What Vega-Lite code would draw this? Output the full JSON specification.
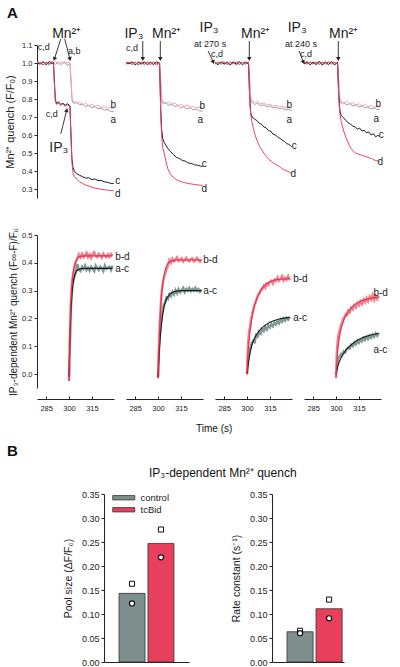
{
"$schema":"https://vega.github.io/schema/vega-lite/v6.json",
"background":"white",
"padding":{"left":4,"top":6,"right":0,"bottom":0},
"config":{"font":"Liberation Sans","view":{"stroke":null},
 "axis":{"grid":false,"domainColor":"#222","tickColor":"#222","labelColor":"#222","titleColor":"#222","titleFontWeight":"normal","labelFont":"Liberation Sans","titleFont":"Liberation Sans","labelOverlap":false},
 "title":{"font":"Liberation Sans","color":"#111"},
 "text":{"font":"Liberation Sans","color":"#222"},
 "legend":{"labelFont":"Liberation Sans","labelColor":"#222"}},
"datasets":{
"top":[
{"k":"tr","p":1,"s":"a","t":279,"v":0.995},{"k":"tr","p":1,"s":"a","t":281,"v":1.006},{"k":"tr","p":1,"s":"a","t":283,"v":0.99},{"k":"tr","p":1,"s":"a","t":285,"v":1.003},{"k":"tr","p":1,"s":"a","t":287,"v":0.988},{"k":"tr","p":1,"s":"a","t":289,"v":1.008},{"k":"tr","p":1,"s":"a","t":291,"v":0.992},{"k":"tr","p":1,"s":"a","t":293,"v":1.004},{"k":"tr","p":1,"s":"a","t":295,"v":0.99},{"k":"tr","p":1,"s":"a","t":297,"v":1.007},{"k":"tr","p":1,"s":"a","t":299,"v":0.986},{"k":"tr","p":1,"s":"a","t":300.6,"v":0.998},{"k":"tr","p":1,"s":"a","t":301.3,"v":0.9},{"k":"tr","p":1,"s":"a","t":302,"v":0.79},{"k":"tr","p":1,"s":"a","t":303,"v":0.776},{"k":"tr","p":1,"s":"a","t":305,"v":0.782},{"k":"tr","p":1,"s":"a","t":307,"v":0.768},{"k":"tr","p":1,"s":"a","t":309,"v":0.772},{"k":"tr","p":1,"s":"a","t":311,"v":0.758},{"k":"tr","p":1,"s":"a","t":313,"v":0.765},{"k":"tr","p":1,"s":"a","t":315,"v":0.752},{"k":"tr","p":1,"s":"a","t":317,"v":0.758},{"k":"tr","p":1,"s":"a","t":319,"v":0.745},{"k":"tr","p":1,"s":"a","t":321,"v":0.75},{"k":"tr","p":1,"s":"a","t":323,"v":0.738},{"k":"tr","p":1,"s":"a","t":325,"v":0.742},{"k":"tr","p":1,"s":"a","t":327,"v":0.732},{"k":"tr","p":1,"s":"a","t":329.3,"v":0.73},
{"k":"tr","p":1,"s":"b","t":279,"v":1.006},{"k":"tr","p":1,"s":"b","t":281,"v":0.992},{"k":"tr","p":1,"s":"b","t":283,"v":1.01},{"k":"tr","p":1,"s":"b","t":285,"v":0.995},{"k":"tr","p":1,"s":"b","t":287,"v":1.006},{"k":"tr","p":1,"s":"b","t":289,"v":0.994},{"k":"tr","p":1,"s":"b","t":291,"v":1.01},{"k":"tr","p":1,"s":"b","t":293,"v":0.992},{"k":"tr","p":1,"s":"b","t":295,"v":1.008},{"k":"tr","p":1,"s":"b","t":297,"v":0.996},{"k":"tr","p":1,"s":"b","t":299,"v":1.004},{"k":"tr","p":1,"s":"b","t":300.6,"v":1.0},{"k":"tr","p":1,"s":"b","t":301.3,"v":0.91},{"k":"tr","p":1,"s":"b","t":302,"v":0.8},{"k":"tr","p":1,"s":"b","t":303,"v":0.786},{"k":"tr","p":1,"s":"b","t":305,"v":0.775},{"k":"tr","p":1,"s":"b","t":307,"v":0.784},{"k":"tr","p":1,"s":"b","t":309,"v":0.768},{"k":"tr","p":1,"s":"b","t":311,"v":0.776},{"k":"tr","p":1,"s":"b","t":313,"v":0.762},{"k":"tr","p":1,"s":"b","t":315,"v":0.77},{"k":"tr","p":1,"s":"b","t":317,"v":0.758},{"k":"tr","p":1,"s":"b","t":319,"v":0.765},{"k":"tr","p":1,"s":"b","t":321,"v":0.752},{"k":"tr","p":1,"s":"b","t":323,"v":0.758},{"k":"tr","p":1,"s":"b","t":325,"v":0.748},{"k":"tr","p":1,"s":"b","t":327,"v":0.752},{"k":"tr","p":1,"s":"b","t":329.3,"v":0.745},
{"k":"tr","p":1,"s":"c","t":279,"v":1.0},{"k":"tr","p":1,"s":"c","t":281,"v":0.994},{"k":"tr","p":1,"s":"c","t":283,"v":1.006},{"k":"tr","p":1,"s":"c","t":285,"v":0.99},{"k":"tr","p":1,"s":"c","t":287,"v":1.008},{"k":"tr","p":1,"s":"c","t":289,"v":0.996},{"k":"tr","p":1,"s":"c","t":289.8,"v":1.003},{"k":"tr","p":1,"s":"c","t":290.4,"v":0.9},{"k":"tr","p":1,"s":"c","t":291,"v":0.8},{"k":"tr","p":1,"s":"c","t":291.8,"v":0.772},{"k":"tr","p":1,"s":"c","t":293,"v":0.785},{"k":"tr","p":1,"s":"c","t":294.5,"v":0.77},{"k":"tr","p":1,"s":"c","t":296,"v":0.776},{"k":"tr","p":1,"s":"c","t":297.5,"v":0.765},{"k":"tr","p":1,"s":"c","t":299,"v":0.774},{"k":"tr","p":1,"s":"c","t":300.6,"v":0.762},{"k":"tr","p":1,"s":"c","t":301.3,"v":0.6},{"k":"tr","p":1,"s":"c","t":301.9,"v":0.47},{"k":"tr","p":1,"s":"c","t":302.6,"v":0.42},{"k":"tr","p":1,"s":"c","t":303.5,"v":0.4},{"k":"tr","p":1,"s":"c","t":305,"v":0.385},{"k":"tr","p":1,"s":"c","t":307,"v":0.376},{"k":"tr","p":1,"s":"c","t":309,"v":0.368},{"k":"tr","p":1,"s":"c","t":311,"v":0.36},{"k":"tr","p":1,"s":"c","t":313,"v":0.363},{"k":"tr","p":1,"s":"c","t":315,"v":0.352},{"k":"tr","p":1,"s":"c","t":317,"v":0.356},{"k":"tr","p":1,"s":"c","t":319,"v":0.346},{"k":"tr","p":1,"s":"c","t":321,"v":0.348},{"k":"tr","p":1,"s":"c","t":323,"v":0.34},{"k":"tr","p":1,"s":"c","t":325,"v":0.338},{"k":"tr","p":1,"s":"c","t":327,"v":0.332},{"k":"tr","p":1,"s":"c","t":329.3,"v":0.33},
{"k":"tr","p":1,"s":"d","t":279,"v":1.005},{"k":"tr","p":1,"s":"d","t":281,"v":1.0},{"k":"tr","p":1,"s":"d","t":283,"v":0.99},{"k":"tr","p":1,"s":"d","t":285,"v":1.004},{"k":"tr","p":1,"s":"d","t":287,"v":0.995},{"k":"tr","p":1,"s":"d","t":289,"v":1.007},{"k":"tr","p":1,"s":"d","t":289.8,"v":0.998},{"k":"tr","p":1,"s":"d","t":290.4,"v":0.88},{"k":"tr","p":1,"s":"d","t":291,"v":0.79},{"k":"tr","p":1,"s":"d","t":291.8,"v":0.77},{"k":"tr","p":1,"s":"d","t":293,"v":0.778},{"k":"tr","p":1,"s":"d","t":294.5,"v":0.764},{"k":"tr","p":1,"s":"d","t":296,"v":0.772},{"k":"tr","p":1,"s":"d","t":297.5,"v":0.76},{"k":"tr","p":1,"s":"d","t":299,"v":0.768},{"k":"tr","p":1,"s":"d","t":300.6,"v":0.758},{"k":"tr","p":1,"s":"d","t":301.3,"v":0.58},{"k":"tr","p":1,"s":"d","t":301.9,"v":0.45},{"k":"tr","p":1,"s":"d","t":302.6,"v":0.39},{"k":"tr","p":1,"s":"d","t":303.5,"v":0.37},{"k":"tr","p":1,"s":"d","t":305,"v":0.355},{"k":"tr","p":1,"s":"d","t":307,"v":0.34},{"k":"tr","p":1,"s":"d","t":309,"v":0.33},{"k":"tr","p":1,"s":"d","t":311,"v":0.322},{"k":"tr","p":1,"s":"d","t":313,"v":0.316},{"k":"tr","p":1,"s":"d","t":315,"v":0.31},{"k":"tr","p":1,"s":"d","t":317,"v":0.305},{"k":"tr","p":1,"s":"d","t":319,"v":0.302},{"k":"tr","p":1,"s":"d","t":321,"v":0.298},{"k":"tr","p":1,"s":"d","t":323,"v":0.296},{"k":"tr","p":1,"s":"d","t":325,"v":0.294},{"k":"tr","p":1,"s":"d","t":327,"v":0.292},{"k":"tr","p":1,"s":"d","t":329.3,"v":0.29},
{"k":"tr","p":2,"s":"a","t":279,"v":0.99},{"k":"tr","p":2,"s":"a","t":281,"v":1.004},{"k":"tr","p":2,"s":"a","t":283,"v":0.992},{"k":"tr","p":2,"s":"a","t":285,"v":1.006},{"k":"tr","p":2,"s":"a","t":287,"v":0.988},{"k":"tr","p":2,"s":"a","t":289,"v":1.003},{"k":"tr","p":2,"s":"a","t":291,"v":0.99},{"k":"tr","p":2,"s":"a","t":293,"v":1.007},{"k":"tr","p":2,"s":"a","t":295,"v":0.993},{"k":"tr","p":2,"s":"a","t":297,"v":1.004},{"k":"tr","p":2,"s":"a","t":299,"v":0.988},{"k":"tr","p":2,"s":"a","t":301,"v":0.998},{"k":"tr","p":2,"s":"a","t":301.8,"v":0.88},{"k":"tr","p":2,"s":"a","t":302.5,"v":0.79},{"k":"tr","p":2,"s":"a","t":303.5,"v":0.772},{"k":"tr","p":2,"s":"a","t":305,"v":0.78},{"k":"tr","p":2,"s":"a","t":307,"v":0.765},{"k":"tr","p":2,"s":"a","t":309,"v":0.772},{"k":"tr","p":2,"s":"a","t":311,"v":0.758},{"k":"tr","p":2,"s":"a","t":313,"v":0.766},{"k":"tr","p":2,"s":"a","t":315,"v":0.75},{"k":"tr","p":2,"s":"a","t":317,"v":0.757},{"k":"tr","p":2,"s":"a","t":319,"v":0.745},{"k":"tr","p":2,"s":"a","t":321,"v":0.752},{"k":"tr","p":2,"s":"a","t":323,"v":0.74},{"k":"tr","p":2,"s":"a","t":325,"v":0.744},{"k":"tr","p":2,"s":"a","t":327,"v":0.735},{"k":"tr","p":2,"s":"a","t":329.3,"v":0.732},
{"k":"tr","p":2,"s":"b","t":279,"v":1.004},{"k":"tr","p":2,"s":"b","t":281,"v":0.995},{"k":"tr","p":2,"s":"b","t":283,"v":1.008},{"k":"tr","p":2,"s":"b","t":285,"v":0.993},{"k":"tr","p":2,"s":"b","t":287,"v":1.005},{"k":"tr","p":2,"s":"b","t":289,"v":0.992},{"k":"tr","p":2,"s":"b","t":291,"v":1.008},{"k":"tr","p":2,"s":"b","t":293,"v":0.995},{"k":"tr","p":2,"s":"b","t":295,"v":1.006},{"k":"tr","p":2,"s":"b","t":297,"v":0.99},{"k":"tr","p":2,"s":"b","t":299,"v":1.005},{"k":"tr","p":2,"s":"b","t":301,"v":1.0},{"k":"tr","p":2,"s":"b","t":301.8,"v":0.9},{"k":"tr","p":2,"s":"b","t":302.5,"v":0.8},{"k":"tr","p":2,"s":"b","t":303.5,"v":0.786},{"k":"tr","p":2,"s":"b","t":305,"v":0.776},{"k":"tr","p":2,"s":"b","t":307,"v":0.785},{"k":"tr","p":2,"s":"b","t":309,"v":0.77},{"k":"tr","p":2,"s":"b","t":311,"v":0.778},{"k":"tr","p":2,"s":"b","t":313,"v":0.762},{"k":"tr","p":2,"s":"b","t":315,"v":0.77},{"k":"tr","p":2,"s":"b","t":317,"v":0.76},{"k":"tr","p":2,"s":"b","t":319,"v":0.766},{"k":"tr","p":2,"s":"b","t":321,"v":0.755},{"k":"tr","p":2,"s":"b","t":323,"v":0.76},{"k":"tr","p":2,"s":"b","t":325,"v":0.75},{"k":"tr","p":2,"s":"b","t":327,"v":0.754},{"k":"tr","p":2,"s":"b","t":329.3,"v":0.748},
{"k":"tr","p":2,"s":"c","t":279,"v":1.003},{"k":"tr","p":2,"s":"c","t":281,"v":0.995},{"k":"tr","p":2,"s":"c","t":283,"v":1.006},{"k":"tr","p":2,"s":"c","t":285,"v":0.99},{"k":"tr","p":2,"s":"c","t":287,"v":1.004},{"k":"tr","p":2,"s":"c","t":289,"v":0.994},{"k":"tr","p":2,"s":"c","t":291,"v":1.007},{"k":"tr","p":2,"s":"c","t":293,"v":0.99},{"k":"tr","p":2,"s":"c","t":295,"v":1.004},{"k":"tr","p":2,"s":"c","t":297,"v":0.992},{"k":"tr","p":2,"s":"c","t":299,"v":1.006},{"k":"tr","p":2,"s":"c","t":301,"v":0.996},{"k":"tr","p":2,"s":"c","t":301.8,"v":0.75},{"k":"tr","p":2,"s":"c","t":302.4,"v":0.63},{"k":"tr","p":2,"s":"c","t":303.1,"v":0.58},{"k":"tr","p":2,"s":"c","t":304,"v":0.56},{"k":"tr","p":2,"s":"c","t":305,"v":0.545},{"k":"tr","p":2,"s":"c","t":306.5,"v":0.525},{"k":"tr","p":2,"s":"c","t":308,"v":0.51},{"k":"tr","p":2,"s":"c","t":310,"v":0.492},{"k":"tr","p":2,"s":"c","t":312,"v":0.476},{"k":"tr","p":2,"s":"c","t":314,"v":0.47},{"k":"tr","p":2,"s":"c","t":316,"v":0.458},{"k":"tr","p":2,"s":"c","t":318,"v":0.455},{"k":"tr","p":2,"s":"c","t":320,"v":0.444},{"k":"tr","p":2,"s":"c","t":322,"v":0.442},{"k":"tr","p":2,"s":"c","t":324,"v":0.434},{"k":"tr","p":2,"s":"c","t":326,"v":0.432},{"k":"tr","p":2,"s":"c","t":328,"v":0.427},{"k":"tr","p":2,"s":"c","t":329.3,"v":0.425},
{"k":"tr","p":2,"s":"d","t":279,"v":0.996},{"k":"tr","p":2,"s":"d","t":281,"v":1.006},{"k":"tr","p":2,"s":"d","t":283,"v":0.992},{"k":"tr","p":2,"s":"d","t":285,"v":1.003},{"k":"tr","p":2,"s":"d","t":287,"v":0.99},{"k":"tr","p":2,"s":"d","t":289,"v":1.006},{"k":"tr","p":2,"s":"d","t":291,"v":0.994},{"k":"tr","p":2,"s":"d","t":293,"v":1.005},{"k":"tr","p":2,"s":"d","t":295,"v":0.99},{"k":"tr","p":2,"s":"d","t":297,"v":1.006},{"k":"tr","p":2,"s":"d","t":299,"v":0.994},{"k":"tr","p":2,"s":"d","t":301,"v":1.002},{"k":"tr","p":2,"s":"d","t":301.8,"v":0.7},{"k":"tr","p":2,"s":"d","t":302.4,"v":0.59},{"k":"tr","p":2,"s":"d","t":303.1,"v":0.53},{"k":"tr","p":2,"s":"d","t":304,"v":0.5},{"k":"tr","p":2,"s":"d","t":305,"v":0.46},{"k":"tr","p":2,"s":"d","t":306.5,"v":0.41},{"k":"tr","p":2,"s":"d","t":308,"v":0.385},{"k":"tr","p":2,"s":"d","t":310,"v":0.365},{"k":"tr","p":2,"s":"d","t":312,"v":0.352},{"k":"tr","p":2,"s":"d","t":314,"v":0.344},{"k":"tr","p":2,"s":"d","t":316,"v":0.338},{"k":"tr","p":2,"s":"d","t":318,"v":0.334},{"k":"tr","p":2,"s":"d","t":320,"v":0.33},{"k":"tr","p":2,"s":"d","t":322,"v":0.328},{"k":"tr","p":2,"s":"d","t":324,"v":0.325},{"k":"tr","p":2,"s":"d","t":326,"v":0.323},{"k":"tr","p":2,"s":"d","t":328,"v":0.321},{"k":"tr","p":2,"s":"d","t":329.3,"v":0.32},
{"k":"tr","p":3,"s":"a","t":279,"v":1.005},{"k":"tr","p":3,"s":"a","t":281,"v":0.99},{"k":"tr","p":3,"s":"a","t":283,"v":1.004},{"k":"tr","p":3,"s":"a","t":285,"v":0.992},{"k":"tr","p":3,"s":"a","t":287,"v":1.007},{"k":"tr","p":3,"s":"a","t":289,"v":0.99},{"k":"tr","p":3,"s":"a","t":291,"v":1.003},{"k":"tr","p":3,"s":"a","t":293,"v":0.988},{"k":"tr","p":3,"s":"a","t":295,"v":1.005},{"k":"tr","p":3,"s":"a","t":297,"v":0.993},{"k":"tr","p":3,"s":"a","t":299,"v":1.006},{"k":"tr","p":3,"s":"a","t":301,"v":0.995},{"k":"tr","p":3,"s":"a","t":301.8,"v":0.88},{"k":"tr","p":3,"s":"a","t":302.5,"v":0.79},{"k":"tr","p":3,"s":"a","t":303.5,"v":0.778},{"k":"tr","p":3,"s":"a","t":305,"v":0.77},{"k":"tr","p":3,"s":"a","t":307,"v":0.776},{"k":"tr","p":3,"s":"a","t":309,"v":0.762},{"k":"tr","p":3,"s":"a","t":311,"v":0.768},{"k":"tr","p":3,"s":"a","t":313,"v":0.755},{"k":"tr","p":3,"s":"a","t":315,"v":0.762},{"k":"tr","p":3,"s":"a","t":317,"v":0.75},{"k":"tr","p":3,"s":"a","t":319,"v":0.755},{"k":"tr","p":3,"s":"a","t":321,"v":0.745},{"k":"tr","p":3,"s":"a","t":323,"v":0.75},{"k":"tr","p":3,"s":"a","t":325,"v":0.74},{"k":"tr","p":3,"s":"a","t":327,"v":0.742},{"k":"tr","p":3,"s":"a","t":329.3,"v":0.735},
{"k":"tr","p":3,"s":"b","t":279,"v":0.993},{"k":"tr","p":3,"s":"b","t":281,"v":1.006},{"k":"tr","p":3,"s":"b","t":283,"v":0.99},{"k":"tr","p":3,"s":"b","t":285,"v":1.005},{"k":"tr","p":3,"s":"b","t":287,"v":0.994},{"k":"tr","p":3,"s":"b","t":289,"v":1.008},{"k":"tr","p":3,"s":"b","t":291,"v":0.992},{"k":"tr","p":3,"s":"b","t":293,"v":1.005},{"k":"tr","p":3,"s":"b","t":295,"v":0.99},{"k":"tr","p":3,"s":"b","t":297,"v":1.007},{"k":"tr","p":3,"s":"b","t":299,"v":0.992},{"k":"tr","p":3,"s":"b","t":301,"v":1.003},{"k":"tr","p":3,"s":"b","t":301.8,"v":0.9},{"k":"tr","p":3,"s":"b","t":302.5,"v":0.8},{"k":"tr","p":3,"s":"b","t":303.5,"v":0.788},{"k":"tr","p":3,"s":"b","t":305,"v":0.782},{"k":"tr","p":3,"s":"b","t":307,"v":0.786},{"k":"tr","p":3,"s":"b","t":309,"v":0.772},{"k":"tr","p":3,"s":"b","t":311,"v":0.778},{"k":"tr","p":3,"s":"b","t":313,"v":0.765},{"k":"tr","p":3,"s":"b","t":315,"v":0.772},{"k":"tr","p":3,"s":"b","t":317,"v":0.76},{"k":"tr","p":3,"s":"b","t":319,"v":0.766},{"k":"tr","p":3,"s":"b","t":321,"v":0.756},{"k":"tr","p":3,"s":"b","t":323,"v":0.762},{"k":"tr","p":3,"s":"b","t":325,"v":0.75},{"k":"tr","p":3,"s":"b","t":327,"v":0.755},{"k":"tr","p":3,"s":"b","t":329.3,"v":0.748},
{"k":"tr","p":3,"s":"c","t":279,"v":1.0},{"k":"tr","p":3,"s":"c","t":281,"v":0.992},{"k":"tr","p":3,"s":"c","t":283,"v":1.007},{"k":"tr","p":3,"s":"c","t":285,"v":0.995},{"k":"tr","p":3,"s":"c","t":287,"v":1.003},{"k":"tr","p":3,"s":"c","t":289,"v":0.99},{"k":"tr","p":3,"s":"c","t":291,"v":1.006},{"k":"tr","p":3,"s":"c","t":293,"v":0.994},{"k":"tr","p":3,"s":"c","t":295,"v":1.008},{"k":"tr","p":3,"s":"c","t":297,"v":0.99},{"k":"tr","p":3,"s":"c","t":299,"v":1.004},{"k":"tr","p":3,"s":"c","t":301,"v":0.995},{"k":"tr","p":3,"s":"c","t":301.8,"v":0.8},{"k":"tr","p":3,"s":"c","t":302.5,"v":0.72},{"k":"tr","p":3,"s":"c","t":303.3,"v":0.7},{"k":"tr","p":3,"s":"c","t":305,"v":0.688},{"k":"tr","p":3,"s":"c","t":306.5,"v":0.68},{"k":"tr","p":3,"s":"c","t":308,"v":0.665},{"k":"tr","p":3,"s":"c","t":309.5,"v":0.66},{"k":"tr","p":3,"s":"c","t":311,"v":0.645},{"k":"tr","p":3,"s":"c","t":312.5,"v":0.64},{"k":"tr","p":3,"s":"c","t":314,"v":0.625},{"k":"tr","p":3,"s":"c","t":315.5,"v":0.622},{"k":"tr","p":3,"s":"c","t":317,"v":0.605},{"k":"tr","p":3,"s":"c","t":318.5,"v":0.6},{"k":"tr","p":3,"s":"c","t":320,"v":0.59},{"k":"tr","p":3,"s":"c","t":321.5,"v":0.582},{"k":"tr","p":3,"s":"c","t":323,"v":0.572},{"k":"tr","p":3,"s":"c","t":324.5,"v":0.565},{"k":"tr","p":3,"s":"c","t":326,"v":0.552},{"k":"tr","p":3,"s":"c","t":327.5,"v":0.548},{"k":"tr","p":3,"s":"c","t":329.3,"v":0.535},
{"k":"tr","p":3,"s":"d","t":279,"v":0.995},{"k":"tr","p":3,"s":"d","t":281,"v":1.004},{"k":"tr","p":3,"s":"d","t":283,"v":0.998},{"k":"tr","p":3,"s":"d","t":285,"v":1.007},{"k":"tr","p":3,"s":"d","t":287,"v":0.99},{"k":"tr","p":3,"s":"d","t":289,"v":1.003},{"k":"tr","p":3,"s":"d","t":291,"v":0.996},{"k":"tr","p":3,"s":"d","t":293,"v":1.006},{"k":"tr","p":3,"s":"d","t":295,"v":0.992},{"k":"tr","p":3,"s":"d","t":297,"v":1.003},{"k":"tr","p":3,"s":"d","t":299,"v":0.996},{"k":"tr","p":3,"s":"d","t":301,"v":1.005},{"k":"tr","p":3,"s":"d","t":301.8,"v":0.78},{"k":"tr","p":3,"s":"d","t":302.5,"v":0.71},{"k":"tr","p":3,"s":"d","t":303.3,"v":0.67},{"k":"tr","p":3,"s":"d","t":304.3,"v":0.63},{"k":"tr","p":3,"s":"d","t":305.3,"v":0.6},{"k":"tr","p":3,"s":"d","t":306.8,"v":0.565},{"k":"tr","p":3,"s":"d","t":308.3,"v":0.535},{"k":"tr","p":3,"s":"d","t":309.8,"v":0.515},{"k":"tr","p":3,"s":"d","t":311.3,"v":0.495},{"k":"tr","p":3,"s":"d","t":312.8,"v":0.48},{"k":"tr","p":3,"s":"d","t":314.3,"v":0.465},{"k":"tr","p":3,"s":"d","t":315.8,"v":0.455},{"k":"tr","p":3,"s":"d","t":317.3,"v":0.445},{"k":"tr","p":3,"s":"d","t":318.8,"v":0.437},{"k":"tr","p":3,"s":"d","t":320.3,"v":0.43},{"k":"tr","p":3,"s":"d","t":321.8,"v":0.42},{"k":"tr","p":3,"s":"d","t":323.3,"v":0.412},{"k":"tr","p":3,"s":"d","t":324.8,"v":0.405},{"k":"tr","p":3,"s":"d","t":326.3,"v":0.4},{"k":"tr","p":3,"s":"d","t":327.8,"v":0.392},{"k":"tr","p":3,"s":"d","t":329.3,"v":0.386},
{"k":"tr","p":4,"s":"a","t":279,"v":0.992},{"k":"tr","p":4,"s":"a","t":281,"v":1.006},{"k":"tr","p":4,"s":"a","t":283,"v":0.99},{"k":"tr","p":4,"s":"a","t":285,"v":1.004},{"k":"tr","p":4,"s":"a","t":287,"v":0.988},{"k":"tr","p":4,"s":"a","t":289,"v":1.007},{"k":"tr","p":4,"s":"a","t":291,"v":0.993},{"k":"tr","p":4,"s":"a","t":293,"v":1.005},{"k":"tr","p":4,"s":"a","t":295,"v":0.99},{"k":"tr","p":4,"s":"a","t":297,"v":1.004},{"k":"tr","p":4,"s":"a","t":299,"v":0.991},{"k":"tr","p":4,"s":"a","t":301,"v":1.0},{"k":"tr","p":4,"s":"a","t":301.8,"v":0.89},{"k":"tr","p":4,"s":"a","t":302.5,"v":0.79},{"k":"tr","p":4,"s":"a","t":303.5,"v":0.776},{"k":"tr","p":4,"s":"a","t":305,"v":0.78},{"k":"tr","p":4,"s":"a","t":307,"v":0.768},{"k":"tr","p":4,"s":"a","t":309,"v":0.774},{"k":"tr","p":4,"s":"a","t":311,"v":0.762},{"k":"tr","p":4,"s":"a","t":313,"v":0.768},{"k":"tr","p":4,"s":"a","t":315,"v":0.755},{"k":"tr","p":4,"s":"a","t":317,"v":0.762},{"k":"tr","p":4,"s":"a","t":319,"v":0.75},{"k":"tr","p":4,"s":"a","t":321,"v":0.756},{"k":"tr","p":4,"s":"a","t":323,"v":0.745},{"k":"tr","p":4,"s":"a","t":325,"v":0.75},{"k":"tr","p":4,"s":"a","t":327,"v":0.742},{"k":"tr","p":4,"s":"a","t":328.5,"v":0.74},
{"k":"tr","p":4,"s":"b","t":279,"v":1.005},{"k":"tr","p":4,"s":"b","t":281,"v":0.994},{"k":"tr","p":4,"s":"b","t":283,"v":1.008},{"k":"tr","p":4,"s":"b","t":285,"v":0.992},{"k":"tr","p":4,"s":"b","t":287,"v":1.006},{"k":"tr","p":4,"s":"b","t":289,"v":0.994},{"k":"tr","p":4,"s":"b","t":291,"v":1.008},{"k":"tr","p":4,"s":"b","t":293,"v":0.992},{"k":"tr","p":4,"s":"b","t":295,"v":1.006},{"k":"tr","p":4,"s":"b","t":297,"v":0.994},{"k":"tr","p":4,"s":"b","t":299,"v":1.006},{"k":"tr","p":4,"s":"b","t":301,"v":0.996},{"k":"tr","p":4,"s":"b","t":301.8,"v":0.9},{"k":"tr","p":4,"s":"b","t":302.5,"v":0.8},{"k":"tr","p":4,"s":"b","t":303.5,"v":0.79},{"k":"tr","p":4,"s":"b","t":305,"v":0.778},{"k":"tr","p":4,"s":"b","t":307,"v":0.786},{"k":"tr","p":4,"s":"b","t":309,"v":0.772},{"k":"tr","p":4,"s":"b","t":311,"v":0.78},{"k":"tr","p":4,"s":"b","t":313,"v":0.766},{"k":"tr","p":4,"s":"b","t":315,"v":0.774},{"k":"tr","p":4,"s":"b","t":317,"v":0.762},{"k":"tr","p":4,"s":"b","t":319,"v":0.768},{"k":"tr","p":4,"s":"b","t":321,"v":0.758},{"k":"tr","p":4,"s":"b","t":323,"v":0.764},{"k":"tr","p":4,"s":"b","t":325,"v":0.754},{"k":"tr","p":4,"s":"b","t":327,"v":0.76},{"k":"tr","p":4,"s":"b","t":328.5,"v":0.752},
{"k":"tr","p":4,"s":"c","t":279,"v":0.995},{"k":"tr","p":4,"s":"c","t":281,"v":1.008},{"k":"tr","p":4,"s":"c","t":283,"v":0.99},{"k":"tr","p":4,"s":"c","t":285,"v":1.005},{"k":"tr","p":4,"s":"c","t":287,"v":0.992},{"k":"tr","p":4,"s":"c","t":289,"v":1.01},{"k":"tr","p":4,"s":"c","t":291,"v":0.988},{"k":"tr","p":4,"s":"c","t":293,"v":1.006},{"k":"tr","p":4,"s":"c","t":295,"v":0.992},{"k":"tr","p":4,"s":"c","t":297,"v":1.009},{"k":"tr","p":4,"s":"c","t":299,"v":0.99},{"k":"tr","p":4,"s":"c","t":301,"v":1.004},{"k":"tr","p":4,"s":"c","t":301.8,"v":0.82},{"k":"tr","p":4,"s":"c","t":302.5,"v":0.74},{"k":"tr","p":4,"s":"c","t":303.3,"v":0.71},{"k":"tr","p":4,"s":"c","t":305,"v":0.695},{"k":"tr","p":4,"s":"c","t":306.5,"v":0.68},{"k":"tr","p":4,"s":"c","t":308,"v":0.668},{"k":"tr","p":4,"s":"c","t":309.5,"v":0.66},{"k":"tr","p":4,"s":"c","t":311,"v":0.65},{"k":"tr","p":4,"s":"c","t":312.5,"v":0.645},{"k":"tr","p":4,"s":"c","t":314,"v":0.632},{"k":"tr","p":4,"s":"c","t":315.5,"v":0.638},{"k":"tr","p":4,"s":"c","t":317,"v":0.622},{"k":"tr","p":4,"s":"c","t":318.5,"v":0.626},{"k":"tr","p":4,"s":"c","t":320,"v":0.612},{"k":"tr","p":4,"s":"c","t":321.5,"v":0.617},{"k":"tr","p":4,"s":"c","t":323,"v":0.6},{"k":"tr","p":4,"s":"c","t":324.5,"v":0.607},{"k":"tr","p":4,"s":"c","t":326,"v":0.59},{"k":"tr","p":4,"s":"c","t":327.5,"v":0.598},{"k":"tr","p":4,"s":"c","t":328.5,"v":0.592},
{"k":"tr","p":4,"s":"d","t":279,"v":1.003},{"k":"tr","p":4,"s":"d","t":281,"v":0.994},{"k":"tr","p":4,"s":"d","t":283,"v":1.006},{"k":"tr","p":4,"s":"d","t":285,"v":0.996},{"k":"tr","p":4,"s":"d","t":287,"v":1.005},{"k":"tr","p":4,"s":"d","t":289,"v":0.992},{"k":"tr","p":4,"s":"d","t":291,"v":1.004},{"k":"tr","p":4,"s":"d","t":293,"v":0.995},{"k":"tr","p":4,"s":"d","t":295,"v":1.007},{"k":"tr","p":4,"s":"d","t":297,"v":0.993},{"k":"tr","p":4,"s":"d","t":299,"v":1.003},{"k":"tr","p":4,"s":"d","t":301,"v":0.997},{"k":"tr","p":4,"s":"d","t":301.8,"v":0.8},{"k":"tr","p":4,"s":"d","t":302.5,"v":0.72},{"k":"tr","p":4,"s":"d","t":303.3,"v":0.68},{"k":"tr","p":4,"s":"d","t":304.3,"v":0.645},{"k":"tr","p":4,"s":"d","t":305.3,"v":0.615},{"k":"tr","p":4,"s":"d","t":306.8,"v":0.58},{"k":"tr","p":4,"s":"d","t":308.3,"v":0.55},{"k":"tr","p":4,"s":"d","t":309.8,"v":0.525},{"k":"tr","p":4,"s":"d","t":311.3,"v":0.51},{"k":"tr","p":4,"s":"d","t":312.8,"v":0.5},{"k":"tr","p":4,"s":"d","t":314.3,"v":0.495},{"k":"tr","p":4,"s":"d","t":315.8,"v":0.49},{"k":"tr","p":4,"s":"d","t":317.3,"v":0.487},{"k":"tr","p":4,"s":"d","t":318.8,"v":0.482},{"k":"tr","p":4,"s":"d","t":320.3,"v":0.478},{"k":"tr","p":4,"s":"d","t":321.8,"v":0.473},{"k":"tr","p":4,"s":"d","t":323.3,"v":0.47},{"k":"tr","p":4,"s":"d","t":324.8,"v":0.462},{"k":"tr","p":4,"s":"d","t":326.3,"v":0.458},{"k":"tr","p":4,"s":"d","t":327.8,"v":0.455},{"k":"tr","p":4,"s":"d","t":328.5,"v":0.452},
{"k":"small","p":1,"txt":"c,d","t":283.5,"v":1.089},{"k":"big","p":1,"txt":"Mn²⁺","t":298.5,"v":1.161},{"k":"small","p":1,"txt":"a,b","t":303.5,"v":1.067},
{"k":"arr","p":1,"id":"mncd","t":294.6,"v":1.133,"t2":290.4,"v2":1.022},{"k":"arr","p":1,"id":"mnab","t":297.2,"v":1.133,"t2":300.6,"v2":1.022},
{"k":"small","p":1,"txt":"c,d","t":288.7,"v":0.717},{"k":"big","p":1,"txt":"IP₃","t":293.3,"v":0.528},{"k":"arr","p":1,"id":"ip1","t":294.6,"v":0.606,"t2":298.5,"v2":0.738},
{"k":"end","p":1,"txt":"b","t":329,"v":0.767},{"k":"end","p":1,"txt":"a","t":329,"v":0.683},{"k":"end","p":1,"txt":"c","t":332,"v":0.344},{"k":"end","p":1,"txt":"d","t":332,"v":0.272},
{"k":"big","p":2,"txt":"IP₃","t":284.2,"v":1.161},{"k":"small","p":2,"txt":"c,d","t":282.9,"v":1.083},{"k":"arr","p":2,"id":"ipv","t":290,"v":1.122,"t2":290,"v2":1.022},
{"k":"big","p":2,"txt":"Mn²⁺","t":305.6,"v":1.161},{"k":"arr","p":2,"id":"mn","t":301.5,"v":1.122,"t2":301.5,"v2":1.022},
{"k":"end","p":2,"txt":"b","t":329,"v":0.761},{"k":"end","p":2,"txt":"a","t":327.7,"v":0.683},{"k":"end","p":2,"txt":"c","t":330.3,"v":0.439},{"k":"end","p":2,"txt":"d","t":330.3,"v":0.3},
{"k":"big","p":3,"txt":"IP₃","t":275.1,"v":1.194},{"k":"small","p":3,"txt":"at 270 s","t":275.8,"v":1.106},{"k":"small","p":3,"txt":"c,d","t":280.3,"v":1.05},{"k":"arr","p":3,"id":"ipd","t":274.5,"v":1.067,"t2":277.9,"v2":1.005},
{"k":"big","p":3,"txt":"Mn²⁺","t":305.6,"v":1.161},{"k":"arr","p":3,"id":"mn","t":301.5,"v":1.122,"t2":301.5,"v2":1.022},
{"k":"end","p":3,"txt":"b","t":327.7,"v":0.767},{"k":"end","p":3,"txt":"a","t":327.7,"v":0.683},{"k":"end","p":3,"txt":"c","t":331,"v":0.539},{"k":"end","p":3,"txt":"d","t":330.3,"v":0.383},
{"k":"big","p":4,"txt":"IP₃","t":274.5,"v":1.194},{"k":"small","p":4,"txt":"at 240 s","t":277.1,"v":1.106},{"k":"small","p":4,"txt":"c,d","t":280.3,"v":1.05},{"k":"arr","p":4,"id":"ipd","t":275.8,"v":1.067,"t2":278.6,"v2":1.005},
{"k":"big","p":4,"txt":"Mn²⁺","t":305,"v":1.161},{"k":"arr","p":4,"id":"mn","t":301.5,"v":1.122,"t2":301.5,"v2":1.022},
{"k":"end","p":4,"txt":"b","t":327.7,"v":0.772},{"k":"end","p":4,"txt":"a","t":326.4,"v":0.689},{"k":"end","p":4,"txt":"c","t":329.6,"v":0.6},{"k":"end","p":4,"txt":"d","t":329,"v":0.45}
],
"bot":[
{"k":"tr","p":1,"s":"bd","t":300,"v":-0.025},{"k":"tr","p":1,"s":"bd","t":300.4,"v":0.08},{"k":"tr","p":1,"s":"bd","t":300.8,"v":0.18},{"k":"tr","p":1,"s":"bd","t":301.2,"v":0.26},{"k":"tr","p":1,"s":"bd","t":301.7,"v":0.31},{"k":"tr","p":1,"s":"bd","t":302.3,"v":0.345},{"k":"tr","p":1,"s":"bd","t":303,"v":0.37},{"k":"tr","p":1,"s":"bd","t":303.8,"v":0.39},{"k":"tr","p":1,"s":"bd","t":304.6,"v":0.405},{"k":"tr","p":1,"s":"bd","t":305.5,"v":0.415},{"k":"tr","p":1,"s":"bd","t":306.5,"v":0.43},{"k":"tr","p":1,"s":"bd","t":307.5,"v":0.42},{"k":"tr","p":1,"s":"bd","t":308.5,"v":0.432},{"k":"tr","p":1,"s":"bd","t":309.5,"v":0.42},{"k":"tr","p":1,"s":"bd","t":310.5,"v":0.428},{"k":"tr","p":1,"s":"bd","t":311.5,"v":0.436},{"k":"tr","p":1,"s":"bd","t":312.5,"v":0.42},{"k":"tr","p":1,"s":"bd","t":313.5,"v":0.43},{"k":"tr","p":1,"s":"bd","t":314.5,"v":0.418},{"k":"tr","p":1,"s":"bd","t":315.5,"v":0.432},{"k":"tr","p":1,"s":"bd","t":316.5,"v":0.438},{"k":"tr","p":1,"s":"bd","t":317.5,"v":0.424},{"k":"tr","p":1,"s":"bd","t":318.5,"v":0.42},{"k":"tr","p":1,"s":"bd","t":319.5,"v":0.432},{"k":"tr","p":1,"s":"bd","t":320.5,"v":0.426},{"k":"tr","p":1,"s":"bd","t":321.5,"v":0.418},{"k":"tr","p":1,"s":"bd","t":322.5,"v":0.433},{"k":"tr","p":1,"s":"bd","t":323.5,"v":0.425},{"k":"tr","p":1,"s":"bd","t":324.5,"v":0.42},{"k":"tr","p":1,"s":"bd","t":325.5,"v":0.43},{"k":"tr","p":1,"s":"bd","t":326.5,"v":0.421},{"k":"tr","p":1,"s":"bd","t":327.5,"v":0.432},{"k":"tr","p":1,"s":"bd","t":328.5,"v":0.425},
{"k":"tr","p":1,"s":"ac","t":300,"v":-0.01},{"k":"tr","p":1,"s":"ac","t":300.4,"v":0.07},{"k":"tr","p":1,"s":"ac","t":300.8,"v":0.16},{"k":"tr","p":1,"s":"ac","t":301.2,"v":0.23},{"k":"tr","p":1,"s":"ac","t":301.7,"v":0.28},{"k":"tr","p":1,"s":"ac","t":302.3,"v":0.32},{"k":"tr","p":1,"s":"ac","t":303,"v":0.34},{"k":"tr","p":1,"s":"ac","t":303.8,"v":0.355},{"k":"tr","p":1,"s":"ac","t":304.6,"v":0.37},{"k":"tr","p":1,"s":"ac","t":305.5,"v":0.395},{"k":"tr","p":1,"s":"ac","t":306.5,"v":0.375},{"k":"tr","p":1,"s":"ac","t":307.5,"v":0.37},{"k":"tr","p":1,"s":"ac","t":308.5,"v":0.386},{"k":"tr","p":1,"s":"ac","t":309.5,"v":0.378},{"k":"tr","p":1,"s":"ac","t":310.5,"v":0.39},{"k":"tr","p":1,"s":"ac","t":311.5,"v":0.374},{"k":"tr","p":1,"s":"ac","t":312.5,"v":0.382},{"k":"tr","p":1,"s":"ac","t":313.5,"v":0.372},{"k":"tr","p":1,"s":"ac","t":314.5,"v":0.386},{"k":"tr","p":1,"s":"ac","t":315.5,"v":0.378},{"k":"tr","p":1,"s":"ac","t":316.5,"v":0.37},{"k":"tr","p":1,"s":"ac","t":317.5,"v":0.39},{"k":"tr","p":1,"s":"ac","t":318.5,"v":0.38},{"k":"tr","p":1,"s":"ac","t":319.5,"v":0.374},{"k":"tr","p":1,"s":"ac","t":320.5,"v":0.386},{"k":"tr","p":1,"s":"ac","t":321.5,"v":0.38},{"k":"tr","p":1,"s":"ac","t":322.5,"v":0.37},{"k":"tr","p":1,"s":"ac","t":323.5,"v":0.39},{"k":"tr","p":1,"s":"ac","t":324.5,"v":0.378},{"k":"tr","p":1,"s":"ac","t":325.5,"v":0.382},{"k":"tr","p":1,"s":"ac","t":326.5,"v":0.386},{"k":"tr","p":1,"s":"ac","t":327.5,"v":0.374},{"k":"tr","p":1,"s":"ac","t":328.5,"v":0.39},
{"k":"fit","p":1,"s":"bd","t":300,"v":-0.025},{"k":"fit","p":1,"s":"bd","t":300.4,"v":0.09},{"k":"fit","p":1,"s":"bd","t":300.8,"v":0.18},{"k":"fit","p":1,"s":"bd","t":301.2,"v":0.25},{"k":"fit","p":1,"s":"bd","t":301.7,"v":0.305},{"k":"fit","p":1,"s":"bd","t":302.3,"v":0.345},{"k":"fit","p":1,"s":"bd","t":303,"v":0.375},{"k":"fit","p":1,"s":"bd","t":304,"v":0.4},{"k":"fit","p":1,"s":"bd","t":305,"v":0.413},{"k":"fit","p":1,"s":"bd","t":306,"v":0.42},{"k":"fit","p":1,"s":"bd","t":308,"v":0.424},{"k":"fit","p":1,"s":"bd","t":312,"v":0.425},{"k":"fit","p":1,"s":"bd","t":320,"v":0.425},{"k":"fit","p":1,"s":"bd","t":328.5,"v":0.425},
{"k":"fit","p":1,"s":"ac","t":300,"v":-0.01},{"k":"fit","p":1,"s":"ac","t":300.4,"v":0.08},{"k":"fit","p":1,"s":"ac","t":300.8,"v":0.16},{"k":"fit","p":1,"s":"ac","t":301.2,"v":0.22},{"k":"fit","p":1,"s":"ac","t":301.7,"v":0.27},{"k":"fit","p":1,"s":"ac","t":302.3,"v":0.31},{"k":"fit","p":1,"s":"ac","t":303,"v":0.338},{"k":"fit","p":1,"s":"ac","t":304,"v":0.36},{"k":"fit","p":1,"s":"ac","t":305,"v":0.371},{"k":"fit","p":1,"s":"ac","t":306,"v":0.376},{"k":"fit","p":1,"s":"ac","t":308,"v":0.379},{"k":"fit","p":1,"s":"ac","t":312,"v":0.38},{"k":"fit","p":1,"s":"ac","t":320,"v":0.38},{"k":"fit","p":1,"s":"ac","t":328.5,"v":0.38},
{"k":"tr","p":2,"s":"bd","t":300,"v":-0.015},{"k":"tr","p":2,"s":"bd","t":300.4,"v":0.06},{"k":"tr","p":2,"s":"bd","t":300.8,"v":0.13},{"k":"tr","p":2,"s":"bd","t":301.2,"v":0.19},{"k":"tr","p":2,"s":"bd","t":301.7,"v":0.24},{"k":"tr","p":2,"s":"bd","t":302.3,"v":0.29},{"k":"tr","p":2,"s":"bd","t":303,"v":0.32},{"k":"tr","p":2,"s":"bd","t":303.8,"v":0.345},{"k":"tr","p":2,"s":"bd","t":304.6,"v":0.36},{"k":"tr","p":2,"s":"bd","t":305.5,"v":0.375},{"k":"tr","p":2,"s":"bd","t":306.5,"v":0.39},{"k":"tr","p":2,"s":"bd","t":307.5,"v":0.41},{"k":"tr","p":2,"s":"bd","t":308.5,"v":0.4},{"k":"tr","p":2,"s":"bd","t":309.5,"v":0.415},{"k":"tr","p":2,"s":"bd","t":310.5,"v":0.405},{"k":"tr","p":2,"s":"bd","t":311.5,"v":0.412},{"k":"tr","p":2,"s":"bd","t":312.5,"v":0.42},{"k":"tr","p":2,"s":"bd","t":313.5,"v":0.406},{"k":"tr","p":2,"s":"bd","t":314.5,"v":0.41},{"k":"tr","p":2,"s":"bd","t":315.5,"v":0.416},{"k":"tr","p":2,"s":"bd","t":316.5,"v":0.404},{"k":"tr","p":2,"s":"bd","t":317.5,"v":0.41},{"k":"tr","p":2,"s":"bd","t":318.5,"v":0.418},{"k":"tr","p":2,"s":"bd","t":319.5,"v":0.408},{"k":"tr","p":2,"s":"bd","t":320.5,"v":0.405},{"k":"tr","p":2,"s":"bd","t":321.5,"v":0.414},{"k":"tr","p":2,"s":"bd","t":322.5,"v":0.416},{"k":"tr","p":2,"s":"bd","t":323.5,"v":0.405},{"k":"tr","p":2,"s":"bd","t":324.5,"v":0.41},{"k":"tr","p":2,"s":"bd","t":325.5,"v":0.418},{"k":"tr","p":2,"s":"bd","t":326.5,"v":0.41},{"k":"tr","p":2,"s":"bd","t":327.5,"v":0.404},{"k":"tr","p":2,"s":"bd","t":328.5,"v":0.412},
{"k":"tr","p":2,"s":"ac","t":300,"v":-0.01},{"k":"tr","p":2,"s":"ac","t":300.4,"v":0.05},{"k":"tr","p":2,"s":"ac","t":300.8,"v":0.1},{"k":"tr","p":2,"s":"ac","t":301.2,"v":0.14},{"k":"tr","p":2,"s":"ac","t":301.7,"v":0.175},{"k":"tr","p":2,"s":"ac","t":302.3,"v":0.2},{"k":"tr","p":2,"s":"ac","t":303,"v":0.225},{"k":"tr","p":2,"s":"ac","t":303.8,"v":0.25},{"k":"tr","p":2,"s":"ac","t":304.6,"v":0.255},{"k":"tr","p":2,"s":"ac","t":305.5,"v":0.275},{"k":"tr","p":2,"s":"ac","t":306.5,"v":0.27},{"k":"tr","p":2,"s":"ac","t":307.5,"v":0.288},{"k":"tr","p":2,"s":"ac","t":308.5,"v":0.28},{"k":"tr","p":2,"s":"ac","t":309.5,"v":0.296},{"k":"tr","p":2,"s":"ac","t":310.5,"v":0.286},{"k":"tr","p":2,"s":"ac","t":311.5,"v":0.302},{"k":"tr","p":2,"s":"ac","t":312.5,"v":0.29},{"k":"tr","p":2,"s":"ac","t":313.5,"v":0.305},{"k":"tr","p":2,"s":"ac","t":314.5,"v":0.294},{"k":"tr","p":2,"s":"ac","t":315.5,"v":0.302},{"k":"tr","p":2,"s":"ac","t":316.5,"v":0.31},{"k":"tr","p":2,"s":"ac","t":317.5,"v":0.295},{"k":"tr","p":2,"s":"ac","t":318.5,"v":0.306},{"k":"tr","p":2,"s":"ac","t":319.5,"v":0.3},{"k":"tr","p":2,"s":"ac","t":320.5,"v":0.31},{"k":"tr","p":2,"s":"ac","t":321.5,"v":0.298},{"k":"tr","p":2,"s":"ac","t":322.5,"v":0.306},{"k":"tr","p":2,"s":"ac","t":323.5,"v":0.3},{"k":"tr","p":2,"s":"ac","t":324.5,"v":0.31},{"k":"tr","p":2,"s":"ac","t":325.5,"v":0.3},{"k":"tr","p":2,"s":"ac","t":326.5,"v":0.306},{"k":"tr","p":2,"s":"ac","t":327.5,"v":0.296},{"k":"tr","p":2,"s":"ac","t":328.5,"v":0.304},
{"k":"fit","p":2,"s":"bd","t":300,"v":-0.015},{"k":"fit","p":2,"s":"bd","t":300.5,"v":0.07},{"k":"fit","p":2,"s":"bd","t":301,"v":0.15},{"k":"fit","p":2,"s":"bd","t":301.5,"v":0.21},{"k":"fit","p":2,"s":"bd","t":302,"v":0.26},{"k":"fit","p":2,"s":"bd","t":302.5,"v":0.295},{"k":"fit","p":2,"s":"bd","t":303,"v":0.322},{"k":"fit","p":2,"s":"bd","t":304,"v":0.358},{"k":"fit","p":2,"s":"bd","t":305,"v":0.38},{"k":"fit","p":2,"s":"bd","t":306,"v":0.394},{"k":"fit","p":2,"s":"bd","t":307,"v":0.401},{"k":"fit","p":2,"s":"bd","t":309,"v":0.407},{"k":"fit","p":2,"s":"bd","t":312,"v":0.41},{"k":"fit","p":2,"s":"bd","t":320,"v":0.41},{"k":"fit","p":2,"s":"bd","t":328.5,"v":0.41},
{"k":"fit","p":2,"s":"ac","t":300,"v":-0.01},{"k":"fit","p":2,"s":"ac","t":301,"v":0.1},{"k":"fit","p":2,"s":"ac","t":302,"v":0.168},{"k":"fit","p":2,"s":"ac","t":303,"v":0.213},{"k":"fit","p":2,"s":"ac","t":304,"v":0.243},{"k":"fit","p":2,"s":"ac","t":305,"v":0.262},{"k":"fit","p":2,"s":"ac","t":306,"v":0.275},{"k":"fit","p":2,"s":"ac","t":308,"v":0.289},{"k":"fit","p":2,"s":"ac","t":310,"v":0.295},{"k":"fit","p":2,"s":"ac","t":313,"v":0.299},{"k":"fit","p":2,"s":"ac","t":320,"v":0.3},{"k":"fit","p":2,"s":"ac","t":328.5,"v":0.3},
{"k":"tr","p":3,"s":"bd","t":300,"v":0.0},{"k":"tr","p":3,"s":"bd","t":300.4,"v":0.07},{"k":"tr","p":3,"s":"bd","t":300.8,"v":0.12},{"k":"tr","p":3,"s":"bd","t":301.3,"v":0.15},{"k":"tr","p":3,"s":"bd","t":302,"v":0.17},{"k":"tr","p":3,"s":"bd","t":302.7,"v":0.2},{"k":"tr","p":3,"s":"bd","t":303.4,"v":0.215},{"k":"tr","p":3,"s":"bd","t":304.2,"v":0.235},{"k":"tr","p":3,"s":"bd","t":305,"v":0.25},{"k":"tr","p":3,"s":"bd","t":305.8,"v":0.26},{"k":"tr","p":3,"s":"bd","t":306.6,"v":0.275},{"k":"tr","p":3,"s":"bd","t":307.4,"v":0.285},{"k":"tr","p":3,"s":"bd","t":308.2,"v":0.29},{"k":"tr","p":3,"s":"bd","t":309,"v":0.3},{"k":"tr","p":3,"s":"bd","t":310,"v":0.305},{"k":"tr","p":3,"s":"bd","t":311,"v":0.318},{"k":"tr","p":3,"s":"bd","t":312,"v":0.31},{"k":"tr","p":3,"s":"bd","t":313,"v":0.325},{"k":"tr","p":3,"s":"bd","t":314,"v":0.32},{"k":"tr","p":3,"s":"bd","t":315,"v":0.33},{"k":"tr","p":3,"s":"bd","t":316,"v":0.335},{"k":"tr","p":3,"s":"bd","t":317,"v":0.325},{"k":"tr","p":3,"s":"bd","t":318,"v":0.34},{"k":"tr","p":3,"s":"bd","t":319,"v":0.335},{"k":"tr","p":3,"s":"bd","t":320,"v":0.348},{"k":"tr","p":3,"s":"bd","t":321,"v":0.336},{"k":"tr","p":3,"s":"bd","t":322,"v":0.343},{"k":"tr","p":3,"s":"bd","t":323,"v":0.352},{"k":"tr","p":3,"s":"bd","t":324,"v":0.336},{"k":"tr","p":3,"s":"bd","t":325,"v":0.346},{"k":"tr","p":3,"s":"bd","t":326,"v":0.34},{"k":"tr","p":3,"s":"bd","t":327,"v":0.352},{"k":"tr","p":3,"s":"bd","t":328,"v":0.338},
{"k":"tr","p":3,"s":"ac","t":300,"v":0.0},{"k":"tr","p":3,"s":"ac","t":300.5,"v":0.04},{"k":"tr","p":3,"s":"ac","t":301,"v":0.06},{"k":"tr","p":3,"s":"ac","t":301.5,"v":0.075},{"k":"tr","p":3,"s":"ac","t":302,"v":0.09},{"k":"tr","p":3,"s":"ac","t":303,"v":0.11},{"k":"tr","p":3,"s":"ac","t":304,"v":0.12},{"k":"tr","p":3,"s":"ac","t":305,"v":0.115},{"k":"tr","p":3,"s":"ac","t":306,"v":0.14},{"k":"tr","p":3,"s":"ac","t":307,"v":0.135},{"k":"tr","p":3,"s":"ac","t":308,"v":0.152},{"k":"tr","p":3,"s":"ac","t":309,"v":0.145},{"k":"tr","p":3,"s":"ac","t":310,"v":0.162},{"k":"tr","p":3,"s":"ac","t":311,"v":0.155},{"k":"tr","p":3,"s":"ac","t":312,"v":0.17},{"k":"tr","p":3,"s":"ac","t":313,"v":0.16},{"k":"tr","p":3,"s":"ac","t":314,"v":0.175},{"k":"tr","p":3,"s":"ac","t":315,"v":0.168},{"k":"tr","p":3,"s":"ac","t":316,"v":0.18},{"k":"tr","p":3,"s":"ac","t":317,"v":0.172},{"k":"tr","p":3,"s":"ac","t":318,"v":0.185},{"k":"tr","p":3,"s":"ac","t":319,"v":0.178},{"k":"tr","p":3,"s":"ac","t":320,"v":0.19},{"k":"tr","p":3,"s":"ac","t":321,"v":0.182},{"k":"tr","p":3,"s":"ac","t":322,"v":0.196},{"k":"tr","p":3,"s":"ac","t":323,"v":0.188},{"k":"tr","p":3,"s":"ac","t":324,"v":0.2},{"k":"tr","p":3,"s":"ac","t":325,"v":0.192},{"k":"tr","p":3,"s":"ac","t":326,"v":0.203},{"k":"tr","p":3,"s":"ac","t":327,"v":0.196},{"k":"tr","p":3,"s":"ac","t":328,"v":0.205},
{"k":"fit","p":3,"s":"bd","t":300,"v":0.0},{"k":"fit","p":3,"s":"bd","t":300.5,"v":0.06},{"k":"fit","p":3,"s":"bd","t":301,"v":0.1},{"k":"fit","p":3,"s":"bd","t":302,"v":0.155},{"k":"fit","p":3,"s":"bd","t":303,"v":0.195},{"k":"fit","p":3,"s":"bd","t":304,"v":0.225},{"k":"fit","p":3,"s":"bd","t":305,"v":0.248},{"k":"fit","p":3,"s":"bd","t":306,"v":0.266},{"k":"fit","p":3,"s":"bd","t":308,"v":0.292},{"k":"fit","p":3,"s":"bd","t":310,"v":0.31},{"k":"fit","p":3,"s":"bd","t":312,"v":0.322},{"k":"fit","p":3,"s":"bd","t":315,"v":0.333},{"k":"fit","p":3,"s":"bd","t":318,"v":0.338},{"k":"fit","p":3,"s":"bd","t":322,"v":0.341},{"k":"fit","p":3,"s":"bd","t":328,"v":0.343},
{"k":"fit","p":3,"s":"ac","t":300,"v":0.0},{"k":"fit","p":3,"s":"ac","t":301,"v":0.045},{"k":"fit","p":3,"s":"ac","t":302,"v":0.077},{"k":"fit","p":3,"s":"ac","t":303,"v":0.1},{"k":"fit","p":3,"s":"ac","t":304,"v":0.117},{"k":"fit","p":3,"s":"ac","t":305,"v":0.13},{"k":"fit","p":3,"s":"ac","t":306,"v":0.14},{"k":"fit","p":3,"s":"ac","t":308,"v":0.156},{"k":"fit","p":3,"s":"ac","t":310,"v":0.167},{"k":"fit","p":3,"s":"ac","t":312,"v":0.176},{"k":"fit","p":3,"s":"ac","t":315,"v":0.186},{"k":"fit","p":3,"s":"ac","t":318,"v":0.193},{"k":"fit","p":3,"s":"ac","t":321,"v":0.198},{"k":"fit","p":3,"s":"ac","t":325,"v":0.202},{"k":"fit","p":3,"s":"ac","t":328,"v":0.204},
{"k":"tr","p":4,"s":"bd","t":300,"v":-0.015},{"k":"tr","p":4,"s":"bd","t":300.4,"v":0.06},{"k":"tr","p":4,"s":"bd","t":300.8,"v":0.1},{"k":"tr","p":4,"s":"bd","t":301.3,"v":0.13},{"k":"tr","p":4,"s":"bd","t":301.8,"v":0.145},{"k":"tr","p":4,"s":"bd","t":302.5,"v":0.16},{"k":"tr","p":4,"s":"bd","t":303.2,"v":0.175},{"k":"tr","p":4,"s":"bd","t":304,"v":0.185},{"k":"tr","p":4,"s":"bd","t":304.8,"v":0.2},{"k":"tr","p":4,"s":"bd","t":305.6,"v":0.205},{"k":"tr","p":4,"s":"bd","t":306.4,"v":0.215},{"k":"tr","p":4,"s":"bd","t":307.2,"v":0.212},{"k":"tr","p":4,"s":"bd","t":308,"v":0.228},{"k":"tr","p":4,"s":"bd","t":309,"v":0.222},{"k":"tr","p":4,"s":"bd","t":310,"v":0.238},{"k":"tr","p":4,"s":"bd","t":311,"v":0.232},{"k":"tr","p":4,"s":"bd","t":312,"v":0.248},{"k":"tr","p":4,"s":"bd","t":313,"v":0.24},{"k":"tr","p":4,"s":"bd","t":314,"v":0.255},{"k":"tr","p":4,"s":"bd","t":315,"v":0.247},{"k":"tr","p":4,"s":"bd","t":316,"v":0.262},{"k":"tr","p":4,"s":"bd","t":317,"v":0.252},{"k":"tr","p":4,"s":"bd","t":318,"v":0.268},{"k":"tr","p":4,"s":"bd","t":319,"v":0.258},{"k":"tr","p":4,"s":"bd","t":320,"v":0.274},{"k":"tr","p":4,"s":"bd","t":321,"v":0.262},{"k":"tr","p":4,"s":"bd","t":322,"v":0.278},{"k":"tr","p":4,"s":"bd","t":323,"v":0.268},{"k":"tr","p":4,"s":"bd","t":324,"v":0.284},{"k":"tr","p":4,"s":"bd","t":325,"v":0.266},{"k":"tr","p":4,"s":"bd","t":326,"v":0.28},{"k":"tr","p":4,"s":"bd","t":327,"v":0.27},{"k":"tr","p":4,"s":"bd","t":328,"v":0.282},
{"k":"tr","p":4,"s":"ac","t":300,"v":0.0},{"k":"tr","p":4,"s":"ac","t":300.5,"v":0.025},{"k":"tr","p":4,"s":"ac","t":301,"v":0.04},{"k":"tr","p":4,"s":"ac","t":301.7,"v":0.058},{"k":"tr","p":4,"s":"ac","t":302.5,"v":0.065},{"k":"tr","p":4,"s":"ac","t":303.3,"v":0.072},{"k":"tr","p":4,"s":"ac","t":304,"v":0.068},{"k":"tr","p":4,"s":"ac","t":305,"v":0.082},{"k":"tr","p":4,"s":"ac","t":306,"v":0.078},{"k":"tr","p":4,"s":"ac","t":307,"v":0.09},{"k":"tr","p":4,"s":"ac","t":308,"v":0.095},{"k":"tr","p":4,"s":"ac","t":309,"v":0.092},{"k":"tr","p":4,"s":"ac","t":310,"v":0.105},{"k":"tr","p":4,"s":"ac","t":311,"v":0.1},{"k":"tr","p":4,"s":"ac","t":312,"v":0.112},{"k":"tr","p":4,"s":"ac","t":313,"v":0.106},{"k":"tr","p":4,"s":"ac","t":314,"v":0.12},{"k":"tr","p":4,"s":"ac","t":315,"v":0.112},{"k":"tr","p":4,"s":"ac","t":316,"v":0.124},{"k":"tr","p":4,"s":"ac","t":317,"v":0.118},{"k":"tr","p":4,"s":"ac","t":318,"v":0.13},{"k":"tr","p":4,"s":"ac","t":319,"v":0.122},{"k":"tr","p":4,"s":"ac","t":320,"v":0.134},{"k":"tr","p":4,"s":"ac","t":321,"v":0.126},{"k":"tr","p":4,"s":"ac","t":322,"v":0.138},{"k":"tr","p":4,"s":"ac","t":323,"v":0.13},{"k":"tr","p":4,"s":"ac","t":324,"v":0.142},{"k":"tr","p":4,"s":"ac","t":325,"v":0.134},{"k":"tr","p":4,"s":"ac","t":326,"v":0.146},{"k":"tr","p":4,"s":"ac","t":327,"v":0.138},{"k":"tr","p":4,"s":"ac","t":328,"v":0.148},
{"k":"fit","p":4,"s":"bd","t":300,"v":-0.01},{"k":"fit","p":4,"s":"bd","t":301,"v":0.08},{"k":"fit","p":4,"s":"bd","t":302,"v":0.125},{"k":"fit","p":4,"s":"bd","t":303,"v":0.155},{"k":"fit","p":4,"s":"bd","t":304,"v":0.176},{"k":"fit","p":4,"s":"bd","t":305,"v":0.192},{"k":"fit","p":4,"s":"bd","t":306,"v":0.205},{"k":"fit","p":4,"s":"bd","t":308,"v":0.225},{"k":"fit","p":4,"s":"bd","t":310,"v":0.239},{"k":"fit","p":4,"s":"bd","t":312,"v":0.249},{"k":"fit","p":4,"s":"bd","t":315,"v":0.259},{"k":"fit","p":4,"s":"bd","t":318,"v":0.266},{"k":"fit","p":4,"s":"bd","t":322,"v":0.272},{"k":"fit","p":4,"s":"bd","t":325,"v":0.275},{"k":"fit","p":4,"s":"bd","t":328,"v":0.277},
{"k":"fit","p":4,"s":"ac","t":300,"v":0.0},{"k":"fit","p":4,"s":"ac","t":301,"v":0.025},{"k":"fit","p":4,"s":"ac","t":302,"v":0.042},{"k":"fit","p":4,"s":"ac","t":303,"v":0.055},{"k":"fit","p":4,"s":"ac","t":304,"v":0.066},{"k":"fit","p":4,"s":"ac","t":305,"v":0.075},{"k":"fit","p":4,"s":"ac","t":307,"v":0.09},{"k":"fit","p":4,"s":"ac","t":309,"v":0.101},{"k":"fit","p":4,"s":"ac","t":311,"v":0.11},{"k":"fit","p":4,"s":"ac","t":313,"v":0.118},{"k":"fit","p":4,"s":"ac","t":315,"v":0.124},{"k":"fit","p":4,"s":"ac","t":318,"v":0.132},{"k":"fit","p":4,"s":"ac","t":321,"v":0.138},{"k":"fit","p":4,"s":"ac","t":325,"v":0.143},{"k":"fit","p":4,"s":"ac","t":328,"v":0.146},
{"k":"lab","p":1,"txt":"b-d","t":330.3,"v":0.421},{"k":"lab","p":1,"txt":"a-c","t":330.3,"v":0.378},
{"k":"lab","p":2,"txt":"b-d","t":329.6,"v":0.41},{"k":"lab","p":2,"txt":"a-c","t":329.6,"v":0.3},
{"k":"lab","p":3,"txt":"b-d","t":330.3,"v":0.342},{"k":"lab","p":3,"txt":"a-c","t":330.3,"v":0.2},
{"k":"lab","p":4,"txt":"b-d","t":324.5,"v":0.29},{"k":"lab","p":4,"txt":"a-c","t":324.5,"v":0.086}
],
"bars":[
{"c":"pool","g":"control","m":0.143,"sq":0.163,"ci":0.122},
{"c":"pool","g":"tcBid","m":0.247,"sq":0.276,"ci":0.218},
{"c":"rate","g":"control","m":0.063,"sq":0.065,"ci":0.06},
{"c":"rate","g":"tcBid","m":0.111,"sq":0.13,"ci":0.091}
]
},
"spacing":10,
"vconcat":[
{"spacing":27,"vconcat":[
 {"data":{"name":"top"},
  "title":{"text":"A","anchor":"start","frame":"group","dx":-30,"fontSize":15,"fontWeight":"bold","offset":0},
  "facet":{"column":{"field":"p","type":"ordinal","header":null}},
  "spacing":12,"bounds":"flush",
  "spec":{"width":77,"height":153,
   "encoding":{
    "x":{"field":"t","type":"quantitative","scale":{"domain":[279,329.5],"nice":false,"zero":false},"axis":null},
    "y":{"field":"v","type":"quantitative","scale":{"domain":[0.25,1.1],"nice":false,"zero":false},
         "axis":{"values":[0.3,0.4,0.5,0.6,0.7,0.8,0.9,1.0,1.1],"format":".1f","title":"Mn²⁺ quench (F/F₀)","labelFontSize":7.5,"titleFontSize":11,"tickSize":3,"labelPadding":2,"titlePadding":6}}},
   "layer":[
    {"transform":[{"filter":"datum.k=='tr' && datum.s=='a'"}],"mark":{"type":"line","color":"#9aa0a0","strokeWidth":1}},
    {"transform":[{"filter":"datum.k=='tr' && datum.s=='b'"}],"mark":{"type":"line","color":"#f2a3ad","strokeWidth":1}},
    {"transform":[{"filter":"datum.k=='tr' && datum.s=='c'"}],"mark":{"type":"line","color":"#1e1e1e","strokeWidth":1}},
    {"transform":[{"filter":"datum.k=='tr' && datum.s=='d'"}],"mark":{"type":"line","color":"#e8455e","strokeWidth":1}},
    {"transform":[{"filter":"datum.k=='end'"}],"mark":{"type":"text","fontSize":10,"align":"center","baseline":"middle"},"encoding":{"text":{"field":"txt"}}},
    {"transform":[{"filter":"datum.k=='big'"}],"mark":{"type":"text","fontSize":14,"align":"center","baseline":"middle"},"encoding":{"text":{"field":"txt"}}},
    {"transform":[{"filter":"datum.k=='small'"}],"mark":{"type":"text","fontSize":9,"align":"center","baseline":"middle"},"encoding":{"text":{"field":"txt"}}},
    {"transform":[{"filter":"datum.k=='arr'"}],"mark":{"type":"rule","color":"#222","strokeWidth":0.9},"encoding":{"x2":{"field":"t2"},"y2":{"field":"v2"}}},
    {"transform":[{"filter":"datum.k=='arr' && (datum.id=='mn' || datum.id=='ipv')"}],"mark":{"type":"point","shape":"triangle-down","filled":true,"size":20,"color":"#222","opacity":1},"encoding":{"x":{"field":"t2","type":"quantitative"},"y":{"field":"v2","type":"quantitative"}}},
    {"transform":[{"filter":"datum.k=='arr' && datum.id=='mncd'"}],"mark":{"type":"point","shape":"triangle-down","filled":true,"size":20,"color":"#222","opacity":1,"angle":22},"encoding":{"x":{"field":"t2","type":"quantitative"},"y":{"field":"v2","type":"quantitative"}}},
    {"transform":[{"filter":"datum.k=='arr' && datum.id=='mnab'"}],"mark":{"type":"point","shape":"triangle-down","filled":true,"size":20,"color":"#222","opacity":1,"angle":-14},"encoding":{"x":{"field":"t2","type":"quantitative"},"y":{"field":"v2","type":"quantitative"}}},
    {"transform":[{"filter":"datum.k=='arr' && datum.id=='ipd'"}],"mark":{"type":"point","shape":"triangle-down","filled":true,"size":20,"color":"#222","opacity":1,"angle":-22},"encoding":{"x":{"field":"t2","type":"quantitative"},"y":{"field":"v2","type":"quantitative"}}},
    {"transform":[{"filter":"datum.k=='arr' && datum.id=='ip1'"}],"mark":{"type":"point","shape":"triangle-up","filled":true,"size":20,"color":"#222","opacity":1,"angle":15},"encoding":{"x":{"field":"t2","type":"quantitative"},"y":{"field":"v2","type":"quantitative"}}}
   ]}
 },
 {"data":{"name":"bot"},
  "title":{"text":"Time (s)","orient":"bottom","anchor":"middle","frame":"bounds","dx":16,"fontSize":10,"fontWeight":"normal","offset":12},
  "facet":{"column":{"field":"p","type":"ordinal","header":null}},
  "spacing":12,"bounds":"flush",
  "spec":{"width":77,"height":153,
   "encoding":{
    "x":{"field":"t","type":"quantitative","scale":{"domain":[279,329.5],"nice":false,"zero":false},
         "axis":{"values":[285,300,315],"title":null,"labelFontSize":7.5,"tickSize":-3,"labelPadding":8,"offset":11}},
    "y":{"field":"v","type":"quantitative","scale":{"domain":[-0.05,0.5],"nice":false,"zero":false},
         "axis":{"values":[0,0.1,0.2,0.3,0.4,0.5],"format":".1f","title":"IP₃-dependent Mn²⁺ quench (F∞-F)/F₀","labelFontSize":7.5,"titleFontSize":10,"tickSize":3,"labelPadding":2,"titlePadding":3}}},
   "layer":[
    {"transform":[{"filter":"datum.k=='tr' && datum.s=='ac'"}],"mark":{"type":"line","color":"#7f9995","strokeWidth":2.4}},
    {"transform":[{"filter":"datum.k=='tr' && datum.s=='bd'"}],"mark":{"type":"line","color":"#f27d8c","strokeWidth":2.4}},
    {"transform":[{"filter":"datum.k=='fit' && datum.s=='ac'"}],"mark":{"type":"line","color":"#1a1a1a","strokeWidth":1.1}},
    {"transform":[{"filter":"datum.k=='fit' && datum.s=='bd'"}],"mark":{"type":"line","color":"#e0304f","strokeWidth":1.1}},
    {"transform":[{"filter":"datum.k=='lab'"}],"mark":{"type":"text","fontSize":10,"align":"left","baseline":"middle"},"encoding":{"text":{"field":"txt"}}}
   ]}
 }
]},
{"title":{"text":"B","anchor":"start","frame":"group","dx":-30,"fontSize":15,"fontWeight":"bold","offset":8},
 "spacing":10,
 "hconcat":[
 {"data":{"values":[]},"mark":{"type":"point"},"width":16,"height":10},
 {"title":{"text":"IP₃-dependent Mn²⁺ quench","anchor":"middle","frame":"bounds","dx":19,"fontSize":12,"fontWeight":"normal","offset":10},
  "spacing":83,"bounds":"flush",
  "resolve":{"scale":{"fill":"independent"},"legend":{"fill":"independent"}},
  "hconcat":[
  {"data":{"name":"bars"},"transform":[{"filter":"datum.c=='pool'"}],
   "width":85,"height":168,
   "encoding":{"x":{"field":"g","type":"nominal","scale":{"domain":["control","tcBid"],"paddingInner":0.1,"paddingOuter":0.52},"axis":{"labels":false,"ticks":false,"title":null,"domain":true}}},
   "layer":[
    {"mark":{"type":"bar","stroke":"#333","strokeWidth":0.8},
     "encoding":{"y":{"field":"m","type":"quantitative","title":"Pool size (ΔF/F₀)","scale":{"domain":[0,0.35],"nice":false},"axis":{"values":[0,0.05,0.1,0.15,0.2,0.25,0.3,0.35],"format":".2f","labelOverlap":false,"labelFontSize":9,"titleFontSize":10.5,"tickSize":3,"labelPadding":2,"titlePadding":8}},
      "fill":{"field":"g","type":"nominal","scale":{"domain":["control","tcBid"],"range":["#7d8f8c","#e8405c"]},
       "legend":{"title":null,"orient":"none","legendX":15,"legendY":-1,"symbolType":"M-2.75,-0.55H2.75V0.55H-2.75Z","symbolSize":64,"symbolStrokeColor":"#333","symbolStrokeWidth":0.8,"labelFontSize":9.5,"labelOffset":12,"rowPadding":1,"padding":0}}}},
    {"mark":{"type":"point","shape":"square","filled":true,"fill":"white","stroke":"#111","strokeWidth":1,"size":26,"opacity":1},"encoding":{"y":{"field":"sq","type":"quantitative","title":"Pool size (ΔF/F₀)","axis":{"values":[0,0.05,0.1,0.15,0.2,0.25,0.3,0.35],"format":".2f","labelOverlap":false,"labelFontSize":9,"titleFontSize":10.5,"tickSize":3,"labelPadding":2,"titlePadding":8}}}},
    {"mark":{"type":"point","shape":"circle","filled":true,"fill":"white","stroke":"#111","strokeWidth":1.2,"size":26,"opacity":1},"encoding":{"y":{"field":"ci","type":"quantitative","title":"Pool size (ΔF/F₀)","axis":{"values":[0,0.05,0.1,0.15,0.2,0.25,0.3,0.35],"format":".2f","labelOverlap":false,"labelFontSize":9,"titleFontSize":10.5,"tickSize":3,"labelPadding":2,"titlePadding":8}}}}
   ]},
  {"data":{"name":"bars"},"transform":[{"filter":"datum.c=='rate'"}],
   "width":72,"height":168,
   "encoding":{"x":{"field":"g","type":"nominal","scale":{"domain":["control","tcBid"],"paddingInner":0.1,"paddingOuter":0.29,"align":0.89},"axis":{"labels":false,"ticks":false,"title":null,"domain":true}}},
   "layer":[
    {"mark":{"type":"bar","stroke":"#333","strokeWidth":0.8},
     "encoding":{"y":{"field":"m","type":"quantitative","title":"Rate constant (s⁻¹)","scale":{"domain":[0,0.35],"nice":false},"axis":{"values":[0,0.05,0.1,0.15,0.2,0.25,0.3,0.35],"format":".2f","labelOverlap":false,"labelFontSize":9,"titleFontSize":10.5,"tickSize":3,"labelPadding":2,"titlePadding":8}},
      "fill":{"field":"g","type":"nominal","scale":{"domain":["control","tcBid"],"range":["#7d8f8c","#e8405c"]},"legend":null}}},
    {"mark":{"type":"point","shape":"square","filled":true,"fill":"white","stroke":"#111","strokeWidth":1,"size":26,"opacity":1},"encoding":{"y":{"field":"sq","type":"quantitative","title":"Rate constant (s⁻¹)","axis":{"values":[0,0.05,0.1,0.15,0.2,0.25,0.3,0.35],"format":".2f","labelOverlap":false,"labelFontSize":9,"titleFontSize":10.5,"tickSize":3,"labelPadding":2,"titlePadding":8}}}},
    {"mark":{"type":"point","shape":"circle","filled":true,"fill":"white","stroke":"#111","strokeWidth":1.2,"size":26,"opacity":1},"encoding":{"y":{"field":"ci","type":"quantitative","title":"Rate constant (s⁻¹)","axis":{"values":[0,0.05,0.1,0.15,0.2,0.25,0.3,0.35],"format":".2f","labelOverlap":false,"labelFontSize":9,"titleFontSize":10.5,"tickSize":3,"labelPadding":2,"titlePadding":8}}}}
   ]}
 ]}
]}
]
}
